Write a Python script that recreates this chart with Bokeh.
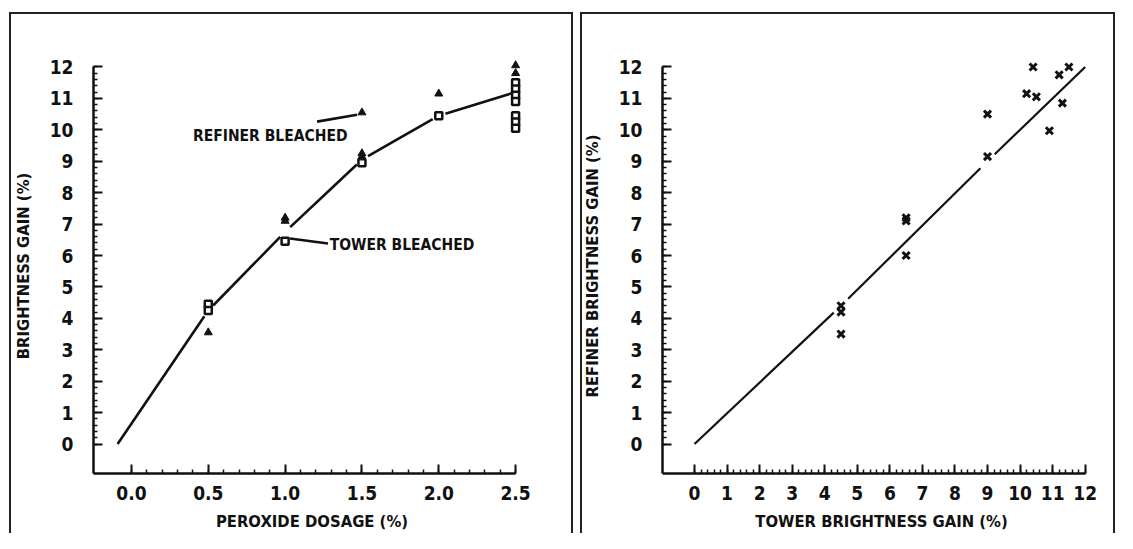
from bokeh.plotting import figure
from bokeh.layouts import row
from bokeh.models import FixedTicker, Range1d, Label
from bokeh.embed import file_html
from bokeh.resources import INLINE

# ---------------- data: left panel (peroxide dosage vs brightness gain) ----------------
dosage_tower = [0.5, 0.5, 1.0, 1.5, 2.0, 2.5, 2.5, 2.5, 2.5, 2.5, 2.5, 2.5]
gain_tower = [4.45, 4.25, 6.45, 8.95, 10.45, 11.5, 11.3, 11.1, 10.9, 10.45, 10.25, 10.05]
dosage_refiner = [0.5, 1.0, 1.0, 1.5, 1.5, 1.5, 2.0, 2.5, 2.5]
gain_refiner = [3.55, 7.2, 7.1, 10.55, 9.25, 9.15, 11.15, 12.05, 11.8]
fit_dosage = [-0.09, 0.5, 1.0, 1.5, 2.0, 2.5]
fit_gain = [0.0, 4.25, 6.75, 9.05, 10.45, 11.2]

# ---------------- data: right panel (tower vs refiner gain) ----------------
tower_gain = [4.5, 4.5, 4.5, 6.5, 6.5, 6.5, 9.0, 9.0, 10.2, 10.4, 10.5, 10.9, 11.2, 11.3, 11.5]
refiner_gain = [4.4, 4.2, 3.5, 7.2, 7.1, 6.0, 10.5, 9.15, 11.15, 12.0, 11.05, 9.97, 11.75, 10.85, 12.0]
fit_tower = [0.0, 4.5, 9.0, 12.0]
fit_refiner = [0.0, 4.4, 9.0, 12.0]

# ---------------- ticks ----------------
left_x_ticks = [0.0, 0.5, 1.0, 1.5, 2.0, 2.5]
left_x_labels = ["0.0", "0.5", "1.0", "1.5", "2.0", "2.5"]
gain_ticks = list(range(0, 13))
gain_labels = [str(v) for v in gain_ticks]

FONT = "'Liberation Sans Narrow', 'DejaVu Sans Condensed', 'Liberation Sans', sans-serif"
INK = "#111111"

# layout geometry (pixels)
H = 533
Y_START, Y_END = -0.938, 12.27


def gapped(xs, ys, sx, sy, gap):
    """Split a polyline into segments with small gaps at interior vertices (pixel gap)."""
    x0, y0, x1, y1 = [], [], [], []
    n = len(xs)
    for i in range(n - 1):
        dx = (xs[i + 1] - xs[i]) * sx
        dy = (ys[i + 1] - ys[i]) * sy
        L = (dx * dx + dy * dy) ** 0.5
        f0 = gap / L if i > 0 else 0.0
        f1 = gap / L if i < n - 2 else 0.0
        x0.append(xs[i] + (xs[i + 1] - xs[i]) * f0)
        y0.append(ys[i] + (ys[i + 1] - ys[i]) * f0)
        x1.append(xs[i + 1] - (xs[i + 1] - xs[i]) * f1)
        y1.append(ys[i + 1] - (ys[i + 1] - ys[i]) * f1)
    return x0, y0, x1, y1


def panel_frame_css(left, right, top, height):
    """CSS background lines (left, top, right) forming the panel frame behind the canvas."""
    g = "linear-gradient(#222222, #222222)"
    return {
        "background-color": "white",
        "background-image": ", ".join([g, g, g]),
        "background-repeat": "no-repeat",
        "background-size": f"2px {height}px, {right - left + 2}px 2px, 2px {height}px",
        "background-position": f"{left}px {top}px, {left}px {top}px, {right}px {top}px",
    }


def style(p, xticks, xminor, xlabels, xbounds, xtitle, ytitle, box):
    p.xgrid.visible = False
    p.ygrid.visible = False
    p.outline_line_color = None
    p.border_fill_color = None
    p.background_fill_color = None
    p.styles = panel_frame_css(*box)
    p.xaxis.ticker = FixedTicker(ticks=xticks, minor_ticks=xminor)
    p.xaxis.major_label_overrides = {float(t): l for t, l in zip(xticks, xlabels)}
    p.yaxis.ticker = FixedTicker(ticks=gain_ticks,
                                 minor_ticks=[round(i * 0.2, 2) for i in range(0, 61)])
    p.yaxis.major_label_overrides = {float(t): l for t, l in zip(gain_ticks, gain_labels)}
    p.xaxis[0].bounds = xbounds
    p.yaxis[0].bounds = (Y_START, 12.0)
    for ax in (p.xaxis[0], p.yaxis[0]):
        ax.axis_line_width = 2.5
        ax.axis_line_color = INK
        ax.major_tick_in = 9
        ax.major_tick_out = 0
        ax.minor_tick_in = 4
        ax.minor_tick_out = 0
        ax.major_tick_line_width = 2
        ax.minor_tick_line_width = 1.5
        ax.major_tick_line_color = INK
        ax.minor_tick_line_color = INK
        ax.major_label_text_font = FONT
        ax.major_label_text_font_size = "19px"
        ax.major_label_text_font_style = "bold"
        ax.major_label_text_color = INK
        ax.axis_label_text_font = FONT
        ax.axis_label_text_font_size = "16.5px"
        ax.axis_label_text_font_style = "bold"
        ax.axis_label_text_color = INK
    p.xaxis.axis_label = xtitle
    p.yaxis.axis_label = ytitle
    p.xaxis.major_label_standoff = 12
    p.yaxis.major_label_standoff = 20
    p.xaxis.axis_label_standoff = 9
    p.yaxis.axis_label_standoff = 14


# ---------------- left figure ----------------
X1_START, X1_END = -0.247, 2.597
p1 = figure(width=576, height=H, output_backend="svg", toolbar_location=None,
            x_range=Range1d(X1_START, X1_END), y_range=Range1d(Y_START, Y_END),
            min_border_left=93, min_border_right=46, min_border_top=58, min_border_bottom=60)
style(p1, left_x_ticks, [round(i * 0.1, 2) for i in range(0, 26)], left_x_labels,
      (X1_START, 2.5), "PEROXIDE DOSAGE (%)", "BRIGHTNESS GAIN (%)", (9, 571, 12, H))

sx1 = 437 / (X1_END - X1_START)
sy = 415 / (Y_END - Y_START)
x0, y0, x1, y1 = gapped(fit_dosage, fit_gain, sx1, sy, 7)
p1.segment(x0, y0, x1, y1, line_width=2.6, line_color=INK)
p1.scatter(dosage_refiner, gain_refiner, marker="triangle", size=8,
           fill_color=INK, line_color=INK, line_width=1)
p1.scatter(dosage_tower, gain_tower, marker="square", size=7,
           fill_color="white", line_color=INK, line_width=2.5)

# annotations (label text and leader lines)
p1.segment([1.208], [10.26], [1.468], [10.48], line_width=2.6, line_color=INK)
p1.segment([1.032], [6.54], [1.279], [6.38], line_width=2.6, line_color=INK)
p1.add_layout(Label(x=0.40, y=9.79, text="REFINER BLEACHED", text_align="left",
                    text_baseline="middle", text_font=FONT, text_font_size="15.5px",
                    text_font_style="bold", text_color=INK))
p1.add_layout(Label(x=1.29, y=6.32, text="TOWER BLEACHED", text_align="left",
                    text_baseline="middle", text_font=FONT, text_font_size="15.5px",
                    text_font_style="bold", text_color=INK))

# ---------------- right figure ----------------
X2_START, X2_END = -0.983, 12.47
p2 = figure(width=541, height=H, output_backend="svg", toolbar_location=None,
            x_range=Range1d(X2_START, X2_END), y_range=Range1d(Y_START, Y_END),
            min_border_left=86, min_border_right=17, min_border_top=58, min_border_bottom=60)
style(p2, gain_ticks, [round(i * 0.2, 2) for i in range(0, 61)], gain_labels,
      (X2_START, 12.0), "TOWER BRIGHTNESS GAIN (%)", "REFINER BRIGHTNESS GAIN (%)",
      (4, 537, 12, H))

sx2 = 438 / (X2_END - X2_START)
x0, y0, x1, y1 = gapped(fit_tower, fit_refiner, sx2, sy, 10)
p2.segment(x0, y0, x1, y1, line_width=2.2, line_color=INK)
p2.scatter(tower_gain, refiner_gain, marker="x", size=10, line_color=INK, line_width=3)

layout = row(p1, p2, spacing=0)
open("out.html", "w").write(file_html(layout, INLINE))
